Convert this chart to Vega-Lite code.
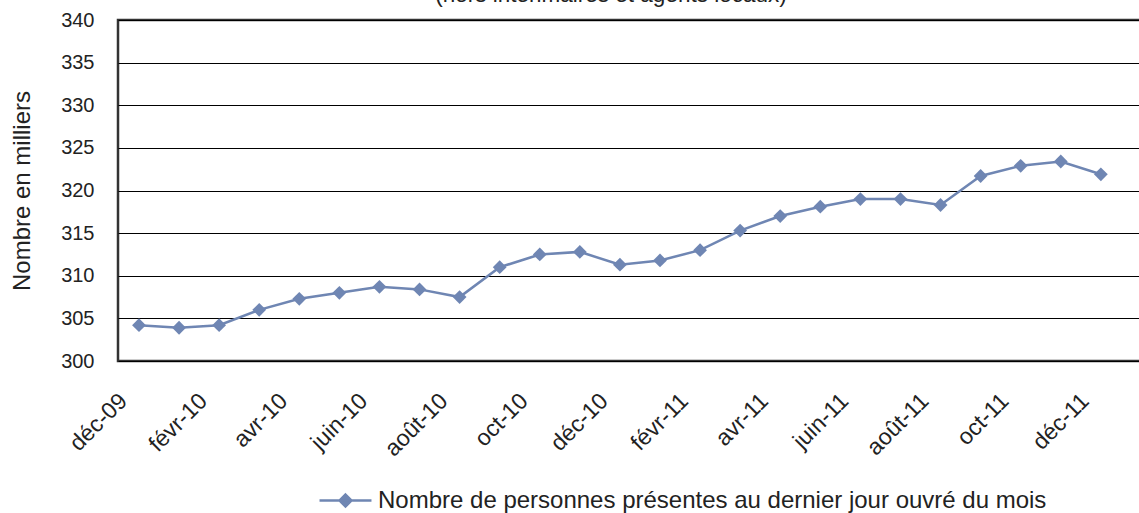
{
  "$schema": "https://vega.github.io/schema/vega-lite/v6.json",
  "autosize": "none",
  "width": 1030,
  "height": 341,
  "padding": {"left": 118, "top": 20, "right": 0, "bottom": 152},
  "background": "white",
  "config": {
    "font": "Liberation Sans",
    "view": {"stroke": "#333333", "strokeWidth": 2.5},
    "axis": {"labelFont": "Liberation Sans", "titleFont": "Liberation Sans", "labelColor": "#222222", "titleColor": "#222222"}
  },
  "title": {
    "text": "(hors intérimaires et agents locaux)",
    "fontSize": 22.5,
    "fontWeight": "normal",
    "color": "#222222",
    "anchor": "middle",
    "frame": "group",
    "dx": -22,
    "offset": 4
  },
  "data": {
    "values": [
      {"mois": "déc-09", "valeur": 304.2, "serie": "Nombre de personnes présentes au dernier jour ouvré du mois"},
      {"mois": "janv-10", "valeur": 303.9, "serie": "Nombre de personnes présentes au dernier jour ouvré du mois"},
      {"mois": "févr-10", "valeur": 304.2, "serie": "Nombre de personnes présentes au dernier jour ouvré du mois"},
      {"mois": "mars-10", "valeur": 306.0, "serie": "Nombre de personnes présentes au dernier jour ouvré du mois"},
      {"mois": "avr-10", "valeur": 307.3, "serie": "Nombre de personnes présentes au dernier jour ouvré du mois"},
      {"mois": "mai-10", "valeur": 308.0, "serie": "Nombre de personnes présentes au dernier jour ouvré du mois"},
      {"mois": "juin-10", "valeur": 308.7, "serie": "Nombre de personnes présentes au dernier jour ouvré du mois"},
      {"mois": "juil-10", "valeur": 308.4, "serie": "Nombre de personnes présentes au dernier jour ouvré du mois"},
      {"mois": "août-10", "valeur": 307.5, "serie": "Nombre de personnes présentes au dernier jour ouvré du mois"},
      {"mois": "sept-10", "valeur": 311.0, "serie": "Nombre de personnes présentes au dernier jour ouvré du mois"},
      {"mois": "oct-10", "valeur": 312.5, "serie": "Nombre de personnes présentes au dernier jour ouvré du mois"},
      {"mois": "nov-10", "valeur": 312.8, "serie": "Nombre de personnes présentes au dernier jour ouvré du mois"},
      {"mois": "déc-10", "valeur": 311.3, "serie": "Nombre de personnes présentes au dernier jour ouvré du mois"},
      {"mois": "janv-11", "valeur": 311.8, "serie": "Nombre de personnes présentes au dernier jour ouvré du mois"},
      {"mois": "févr-11", "valeur": 313.0, "serie": "Nombre de personnes présentes au dernier jour ouvré du mois"},
      {"mois": "mars-11", "valeur": 315.3, "serie": "Nombre de personnes présentes au dernier jour ouvré du mois"},
      {"mois": "avr-11", "valeur": 317.0, "serie": "Nombre de personnes présentes au dernier jour ouvré du mois"},
      {"mois": "mai-11", "valeur": 318.1, "serie": "Nombre de personnes présentes au dernier jour ouvré du mois"},
      {"mois": "juin-11", "valeur": 319.0, "serie": "Nombre de personnes présentes au dernier jour ouvré du mois"},
      {"mois": "juil-11", "valeur": 319.0, "serie": "Nombre de personnes présentes au dernier jour ouvré du mois"},
      {"mois": "août-11", "valeur": 318.3, "serie": "Nombre de personnes présentes au dernier jour ouvré du mois"},
      {"mois": "sept-11", "valeur": 321.7, "serie": "Nombre de personnes présentes au dernier jour ouvré du mois"},
      {"mois": "oct-11", "valeur": 322.9, "serie": "Nombre de personnes présentes au dernier jour ouvré du mois"},
      {"mois": "nov-11", "valeur": 323.4, "serie": "Nombre de personnes présentes au dernier jour ouvré du mois"},
      {"mois": "déc-11", "valeur": 321.9, "serie": "Nombre de personnes présentes au dernier jour ouvré du mois"}
    ]
  },
  "mark": {
    "type": "line",
    "strokeWidth": 2.5,
    "point": {"shape": "diamond", "size": 190, "filled": true, "opacity": 1}
  },
  "encoding": {
    "x": {
      "field": "mois",
      "type": "ordinal",
      "sort": null,
      "title": null,
      "scale": {"type": "point", "padding": 0.85, "align": 0.308},
      "axis": {
        "values": ["déc-09", "févr-10", "avr-10", "juin-10", "août-10", "oct-10", "déc-10", "févr-11", "avr-11", "juin-11", "août-11", "oct-11", "déc-11"],
        "labelAngle": -45,
        "labelAlign": "right",
        "labelBaseline": "middle",
        "labelFontSize": 23,
        "labelPadding": 36,
        "labelOffset": -16,
        "ticks": false,
        "domain": false,
        "grid": false
      }
    },
    "y": {
      "field": "valeur",
      "type": "quantitative",
      "title": "Nombre en milliers",
      "scale": {"domain": [300, 340], "nice": false, "zero": false},
      "axis": {
        "values": [300, 305, 310, 315, 320, 325, 330, 335, 340],
        "labelFontSize": 20,
        "labelPadding": 24,
        "ticks": false,
        "domain": false,
        "grid": true,
        "gridColor": "#000000",
        "gridWidth": 1,
        "gridOpacity": 1,
        "titleFontSize": 24,
        "titleFontWeight": "normal",
        "titlePadding": 26
      }
    },
    "color": {
      "field": "serie",
      "type": "nominal",
      "title": null,
      "scale": {"range": ["#6f86b3"]},
      "legend": {
        "orient": "none",
        "legendX": 200,
        "legendY": 453,
        "labelFontSize": 24,
        "labelColor": "#222222",
        "labelLimit": 900,
        "symbolType": "M-1,0L1,0M0,-0.23L0.23,0L0,0.23L-0.23,0Z",
        "symbolSize": 2700,
        "symbolStrokeWidth": 2.5,
        "symbolFillColor": "#6f86b3",
        "symbolStrokeColor": "#6f86b3",
        "symbolOpacity": 1,
        "symbolOffset": 0,
        "labelOffset": 5
      }
    }
  }
}
